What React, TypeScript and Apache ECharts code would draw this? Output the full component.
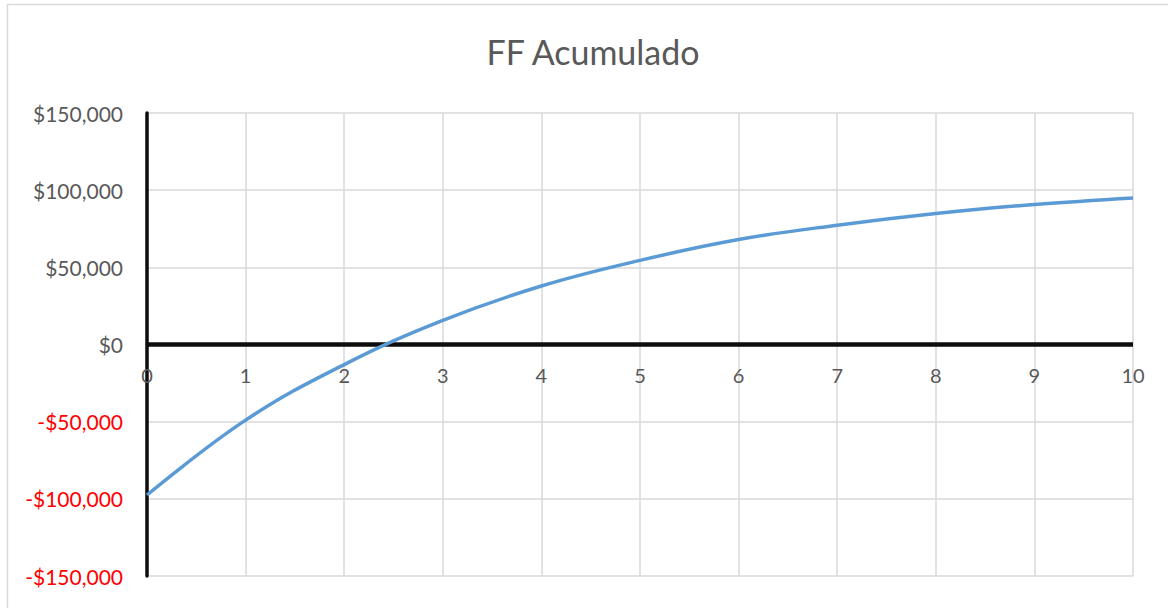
import React, { useEffect, useRef } from "react";
import * as echarts from "echarts";

const titleText = "FF Acumulado";
const periods = [0, 1, 2, 3, 4, 5, 6, 7, 8, 9, 10];
const ffAcumulado = [-97500, -49000, -13000, 15600, 37900, 54500, 68000, 77300, 84900, 90700, 95000];
const yMin = -150000;
const yMax = 150000;
const yStep = 50000;

const fmt = (v: number) => {
  const abs = Math.abs(v).toLocaleString("en-US");
  return v < 0 ? `-$${abs}` : `$${abs}`;
};

export default function App() {
  const ref = useRef<HTMLDivElement>(null);
  useEffect(() => {
    if (!ref.current) return;
    const chart = echarts.init(ref.current, undefined, { renderer: "svg" });
    const font = "Lato";
    const gridTop = 113;
    const gridBottom = 32;
    const plotH = 608 - gridTop - gridBottom;
    const zeroOffset = -plotH * (0 - yMin) / (yMax - yMin);
    chart.setOption({
      animation: false,
      backgroundColor: "#ffffff",
      textStyle: { fontFamily: font },
      title: {
        text: titleText,
        left: 588,
        top: 29,
        textAlign: "center",
        textStyle: { fontFamily: font, fontSize: 34, fontWeight: "normal", color: "#595959" },
      },
      graphic: [
        {
          type: "rect",
          shape: { x: 7.5, y: 4.5, width: 1180, height: 640 },
          style: { fill: "none", stroke: "#d9d9d9", lineWidth: 1.5 },
          silent: true,
        },
      ],
      grid: { left: 147, right: 35, top: gridTop, bottom: gridBottom, outerBoundsMode: "none", containLabel: false },
      xAxis: {
        type: "value",
        min: 0,
        max: 10,
        interval: 1,
        offset: zeroOffset,
        axisLine: { show: false },
        axisTick: { show: false },
        axisLabel: { margin: 20, fontSize: 20, color: "#595959", fontFamily: font },
        splitLine: { show: true, lineStyle: { color: "#d9d9d9", width: 1.5 } },
      },
      yAxis: {
        type: "value",
        min: yMin,
        max: yMax,
        interval: yStep,
        axisLine: { show: true, onZero: false, lineStyle: { color: "#0d0d0d", width: 3.5 } },
        axisTick: { show: false },
        axisLabel: {
          margin: 24,
          fontSize: 21,
          fontFamily: font,
          formatter: (v: number) => (v < 0 ? `{neg|${fmt(v)}}` : `{pos|${fmt(v)}}`),
          rich: {
            neg: { color: "#ff0000", fontSize: 21, fontFamily: font },
            pos: { color: "#595959", fontSize: 21, fontFamily: font },
          },
        },
        splitLine: { show: true, lineStyle: { color: "#d9d9d9", width: 1.5 } },
      },
      series: [
        {
          type: "line",
          data: periods.map((p, i) => [p, ffAcumulado[i]]),
          smooth: 0.4,
          showSymbol: false,
          lineStyle: { color: "#5b9bd5", width: 3.5 },
          z: 3,
          markLine: {
            silent: true,
            symbol: "none",
            label: { show: false },
            lineStyle: { color: "#0d0d0d", width: 4.5, type: "solid" },
            data: [{ yAxis: 0 }],
            z: 2,
          },
        },
      ],
    });
    return () => chart.dispose();
  }, []);
  return (
    <div
      ref={ref}
      style={{ position: "fixed", left: 0, top: 0, width: 1168, height: 608 }}
    />
  );
}
